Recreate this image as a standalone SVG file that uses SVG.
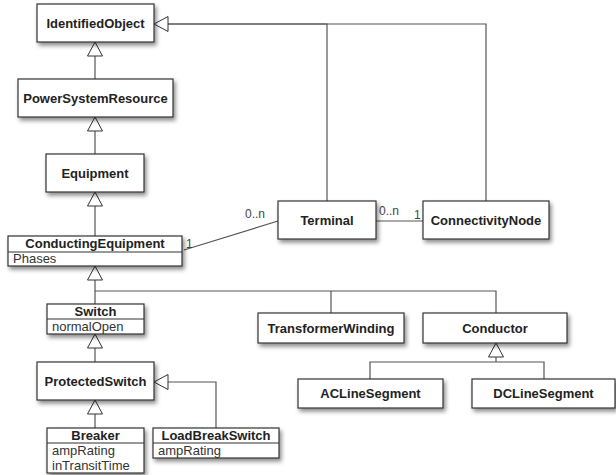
<svg xmlns="http://www.w3.org/2000/svg" width="616" height="475" viewBox="0 0 616 475">
<defs>
<filter id="sh" x="-10%" y="-20%" width="130%" height="160%">
<feDropShadow dx="2" dy="3" stdDeviation="2" flood-color="#000" flood-opacity="0.45"/>
</filter>
<marker id="gen" markerUnits="userSpaceOnUse" markerWidth="16" markerHeight="18" refX="14.5" refY="8" orient="auto" viewBox="0 0 16 18">
<path d="M14.5,8 L0.5,0.5 L0.5,15.5 Z" fill="#fff" stroke="#333" stroke-width="1"/>
</marker>
<style>
.box{fill:#fff;stroke:#333;stroke-width:1.2;filter:url(#sh)}
.div{stroke:#333;stroke-width:1}
.t{font-family:"Liberation Sans",Arial,sans-serif;font-size:13px;font-weight:bold;fill:#222;text-anchor:middle}
.a{font-family:"Liberation Sans",Arial,sans-serif;font-size:13px;fill:#333}
.m{font-family:"Liberation Sans",Arial,sans-serif;font-size:12px;fill:#444}
.c{fill:none;stroke:#555;stroke-width:1.2}
</style>
</defs>
<rect width="616" height="475" fill="#fff"/>
<g id="connectors">
<path class="c" d="M95,79 V42" marker-end="url(#gen)"/>
<path class="c" d="M95,154 V117" marker-end="url(#gen)"/>
<path class="c" d="M95,236 V192" marker-end="url(#gen)"/>
<path class="c" d="M327,201 V24 H160"/>
<path class="c" d="M486,201 V24 H154" marker-end="url(#gen)"/>
<path class="c" d="M184,250 L278,221"/>
<path class="c" d="M376,221 H423"/>
<path class="c" d="M95,304 V266" marker-end="url(#gen)"/>
<path class="c" d="M95,291 H496 V313"/>
<path class="c" d="M331,291 V313"/>
<path class="c" d="M95,362 V334" marker-end="url(#gen)"/>
<path class="c" d="M95,428 V400" marker-end="url(#gen)"/>
<path class="c" d="M216,428 V382 H154" marker-end="url(#gen)"/>
<path class="c" d="M370,379 V362 H544 V379"/>
<path class="c" d="M496,362 V343" marker-end="url(#gen)"/>
<text class="m" x="245" y="218">0..n</text>
<text class="m" x="186" y="248">1</text>
<text class="m" x="379" y="215">0..n</text>
<text class="m" x="414" y="219">1</text>
</g>
<g id="IdentifiedObject"><rect class="box" x="37" y="4" width="117" height="38"/><text class="t" x="95.5" y="27.5">IdentifiedObject</text></g>
<g id="PowerSystemResource"><rect class="box" x="18" y="79" width="155" height="38"/><text class="t" x="95.5" y="102.5">PowerSystemResource</text></g>
<g id="Equipment"><rect class="box" x="46" y="154" width="98" height="38"/><text class="t" x="95" y="177.5">Equipment</text></g>
<g id="ConductingEquipment"><rect class="box" x="8" y="236" width="174" height="30"/><line class="div" x1="8" y1="252" x2="182" y2="252"/><text class="t" x="95" y="248">ConductingEquipment</text><text class="a" x="13" y="263">Phases</text></g>
<g id="Terminal"><rect class="box" x="278" y="201" width="98" height="38"/><text class="t" x="327" y="224.5">Terminal</text></g>
<g id="ConnectivityNode"><rect class="box" x="423" y="201" width="126" height="38"/><text class="t" x="486" y="224.5">ConnectivityNode</text></g>
<g id="Switch"><rect class="box" x="47" y="304" width="97" height="30"/><line class="div" x1="47" y1="319" x2="144" y2="319"/><text class="t" x="95.5" y="316">Switch</text><text class="a" x="52" y="330.5">normalOpen</text></g>
<g id="TransformerWinding"><rect class="box" x="258" y="313" width="146" height="30"/><text class="t" x="331" y="332.5">TransformerWinding</text></g>
<g id="Conductor"><rect class="box" x="423" y="313" width="144" height="30"/><text class="t" x="495" y="332.5">Conductor</text></g>
<g id="ACLineSegment"><rect class="box" x="298" y="379" width="145" height="29"/><text class="t" x="370.5" y="398">ACLineSegment</text></g>
<g id="DCLineSegment"><rect class="box" x="472" y="379" width="143" height="29"/><text class="t" x="543.5" y="398">DCLineSegment</text></g>
<g id="ProtectedSwitch"><rect class="box" x="37" y="362" width="117" height="38"/><text class="t" x="95.5" y="385.5">ProtectedSwitch</text></g>
<g id="Breaker"><rect class="box" x="47" y="428" width="97" height="45"/><line class="div" x1="47" y1="443" x2="144" y2="443"/><text class="t" x="95.5" y="440">Breaker</text><text class="a" x="52" y="455">ampRating</text><text class="a" x="52" y="469.5">inTransitTime</text></g>
<g id="LoadBreakSwitch"><rect class="box" x="153" y="428" width="126" height="30"/><line class="div" x1="153" y1="443" x2="279" y2="443"/><text class="t" x="216" y="440">LoadBreakSwitch</text><text class="a" x="158" y="455">ampRating</text></g>
</svg>
